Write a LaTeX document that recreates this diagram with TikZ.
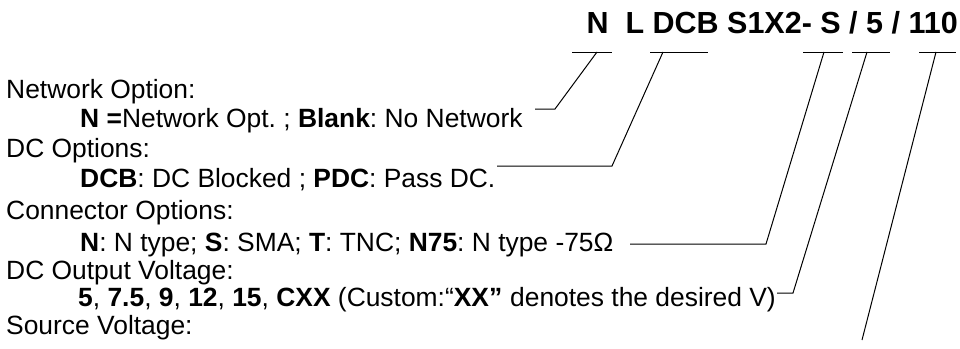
\documentclass[tikz,border=0pt]{standalone}
\usepackage{fontspec}
\setmainfont{Liberation Sans}
\begin{document}
\frenchspacing
\begin{tikzpicture}[x=1pt,y=-1pt,
  body/.style={anchor=base west,inner sep=0pt,font=\fontsize{26.4}{30}\selectfont},
  ttl/.style={anchor=base east,inner sep=0pt,font=\fontsize{30.5}{36}\selectfont\bfseries},
  lead/.style={draw=black,line width=1pt}]
\fill[white] (0,0) rectangle (960,348);
\useasboundingbox (0,0) rectangle (960,348);

% title
\node[ttl] (title) at (958,33) {N\ \ L DCB S1X2- S / 5 / 110};

% left texts
\node[body] (h1) at (6,98) {Network Option:};
\node[body] (t1) at (80,127) {\textbf{N =}Network Opt. ; \textbf{Blank}: No Network};
\node[body] (h2) at (6,157) {DC Options:};
\node[body] (t2) at (80,187) {\textbf{DCB}: DC Blocked ; \textbf{PDC}: Pass DC.};
\node[body] (h3) at (6,219) {Connector Options:};
\node[body] (t3) at (80,251) {\textbf{N}: N type; \textbf{S}: SMA; \textbf{T}: TNC; \textbf{N75}: N type -75Ω};
\node[body] (h4) at (6,279) {DC Output Voltage:};
\node[body] (t4) at (78,306) {\textbf{5}, \textbf{7.5}, \textbf{9}, \textbf{12}, \textbf{15}, \textbf{CXX} (Custom:“\textbf{XX”}\hspace{0.3em}denotes the desired V)};
\node[body] (h5) at (6,334) {Source Voltage:};

% bars under the code letters
\coordinate (b1l) at (572,52);  \coordinate (b1r) at (612,52);  \coordinate (b1s) at (597,52);
\coordinate (b2l) at (650,52);  \coordinate (b2r) at (708,52);  \coordinate (b2s) at (663,52);
\coordinate (b3l) at (803,52);  \coordinate (b3r) at (843,52);  \coordinate (b3s) at (824,52);
\coordinate (b4l) at (852,52);  \coordinate (b4r) at (890,52);  \coordinate (b4s) at (867,52);
\coordinate (b5l) at (919,52);  \coordinate (b5r) at (956,52);  \coordinate (b5s) at (936,52);

% leader corners and ends
\coordinate (c1) at (555,109); \coordinate (e1) at (535,109);
\coordinate (c2) at (612,166); \coordinate (e2) at (497,166);
\coordinate (c3) at (766,244); \coordinate (e3) at (630,244);
\coordinate (c4) at (793,293); \coordinate (e4) at (777,293);
\coordinate (e5) at (862,340);

\draw[lead] (b1l) -- (b1r);
\draw[lead] (b2l) -- (b2r);
\draw[lead] (b3l) -- (b3r);
\draw[lead] (b4l) -- (b4r);
\draw[lead] (b5l) -- (b5r);

\draw[lead] (b1s) -- (c1) -- (e1);
\draw[lead] (b2s) -- (c2) -- (e2);
\draw[lead] (b3s) -- (c3) -- (e3);
\draw[lead] (b4s) -- (c4) -- (e4);
\draw[lead] (b5s) -- (e5);
\end{tikzpicture}
\end{document}
